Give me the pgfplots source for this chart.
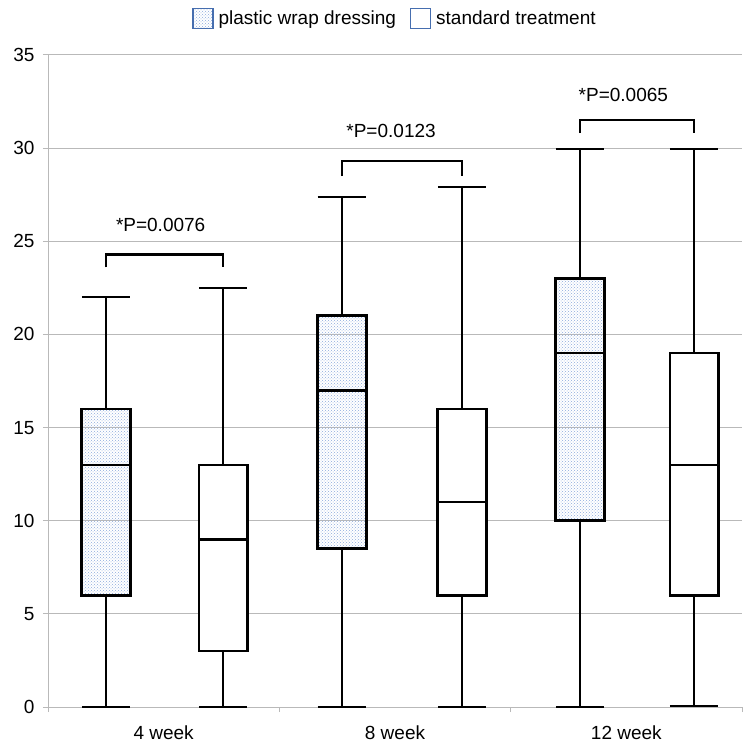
\documentclass[border=0pt]{standalone}
\usepackage{pgfplots}
\pgfplotsset{compat=1.18}
\usepgfplotslibrary{statistics}
\usetikzlibrary{patterns}
\usepackage{fontspec}
\setmainfont{Liberation Sans}
\definecolor{gridc}{RGB}{185,185,185}
\definecolor{dotc}{RGB}{140,170,220}
\definecolor{legblue}{RGB}{70,110,175}

\begin{document}
\begin{tikzpicture}
\useasboundingbox (-48pt,-38pt) rectangle (695pt,707pt);
\begin{axis}[
  scale only axis, width=694pt, height=652pt,
  xmin=-0.5, xmax=2.5, ymin=0, ymax=35,
  axis x line*=bottom, axis y line*=left,
  axis line style={draw=gridc, line width=1pt, -},
  ytick={0,5,...,35},
  ymajorgrids, grid style={draw=gridc, line width=1pt},
  tick align=outside, major tick length=5pt,
  ytick style={draw=gridc, line width=1pt},
  xtick={-0.5,0.5,1.5,2.5}, xticklabels={,,,},
  xtick style={draw=gridc, line width=1pt},
  extra x ticks={0,1,2},
  extra x tick labels={4 week, 8 week, 12 week},
  extra x tick style={major tick length=0pt},
  tick label style={font=\fontsize{19}{22}\selectfont, black},
  yticklabel style={xshift=-5pt},
  xticklabel style={yshift=-15pt},
  /pgf/number format/assume math mode=true,
  boxplot/draw direction=y,
  legend style={at={(0.5,1)}, anchor=center, yshift=36.5pt, draw=none,
    font=\fontsize{19}{22}\selectfont, legend columns=2,
    /tikz/every odd column/.append style={column sep=3pt},
    /tikz/every even column/.append style={column sep=12pt}},
  legend image code/.code={\draw[#1] (0pt,-10pt) rectangle (20pt,10pt);},
  plastic/.style={draw=black, line width=2.6pt,
    boxplot/every box/.style={pattern=crosshatch dots, pattern color=dotc},
    boxplot/every whisker/.style={line width=2pt},
    boxplot/every median/.style={line width=2.4pt}},
  standard/.style={draw=black, line width=2.6pt, fill=white,
    boxplot/every whisker/.style={line width=2pt},
    boxplot/every median/.style={line width=2.4pt}},
]
\addlegendimage{draw=legblue, line width=1.2pt, pattern=crosshatch dots, pattern color=dotc}
\addlegendentry{plastic wrap dressing}
\addlegendimage{draw=legblue, line width=1.2pt, fill=white}
\addlegendentry{standard treatment}

% 4 week
\addplot[plastic, boxplot prepared={draw position=-0.249, lower whisker=0, lower quartile=6, median=13, upper quartile=16, upper whisker=22, box extend=0.21, whisker extend=0.21}] coordinates {};
\addplot[standard, boxplot prepared={draw position=0.257, lower whisker=0, lower quartile=3, median=9, upper quartile=13, upper whisker=22.5, box extend=0.21, whisker extend=0.21}] coordinates {};
% 8 week
\addplot[plastic, boxplot prepared={draw position=0.771, lower whisker=0, lower quartile=8.5, median=17, upper quartile=21, upper whisker=27.4, box extend=0.21, whisker extend=0.21}] coordinates {};
\addplot[standard, boxplot prepared={draw position=1.29, lower whisker=0, lower quartile=6, median=11, upper quartile=16, upper whisker=27.9, box extend=0.21, whisker extend=0.21}] coordinates {};
% 12 week
\addplot[plastic, boxplot prepared={draw position=1.80, lower whisker=0, lower quartile=10, median=19, upper quartile=23, upper whisker=29.95, box extend=0.21, whisker extend=0.21}] coordinates {};
\addplot[standard, boxplot prepared={draw position=2.293, lower whisker=0.05, lower quartile=6, median=13, upper quartile=19, upper whisker=29.95, box extend=0.21, whisker extend=0.21}] coordinates {};

% significance brackets
\addplot[black, line width=2.6pt, forget plot] coordinates {(-0.249,23.6) (-0.249,24.3) (0.257,24.3) (0.257,23.6)};
\addplot[black, line width=2.6pt, forget plot] coordinates {(0.771,28.5) (0.771,29.3) (1.29,29.3) (1.29,28.5)};
\addplot[black, line width=2.6pt, forget plot] coordinates {(1.80,30.8) (1.80,31.5) (2.293,31.5) (2.293,30.8)};

\node[font=\fontsize{19}{22}\selectfont] at (axis cs:-0.013,25.9) {*P=0.0076};
\node[font=\fontsize{19}{22}\selectfont] at (axis cs:0.983,30.9) {*P=0.0123};
\node[font=\fontsize{19}{22}\selectfont] at (axis cs:1.987,32.85) {*P=0.0065};
\end{axis}
\end{tikzpicture}
\end{document}
